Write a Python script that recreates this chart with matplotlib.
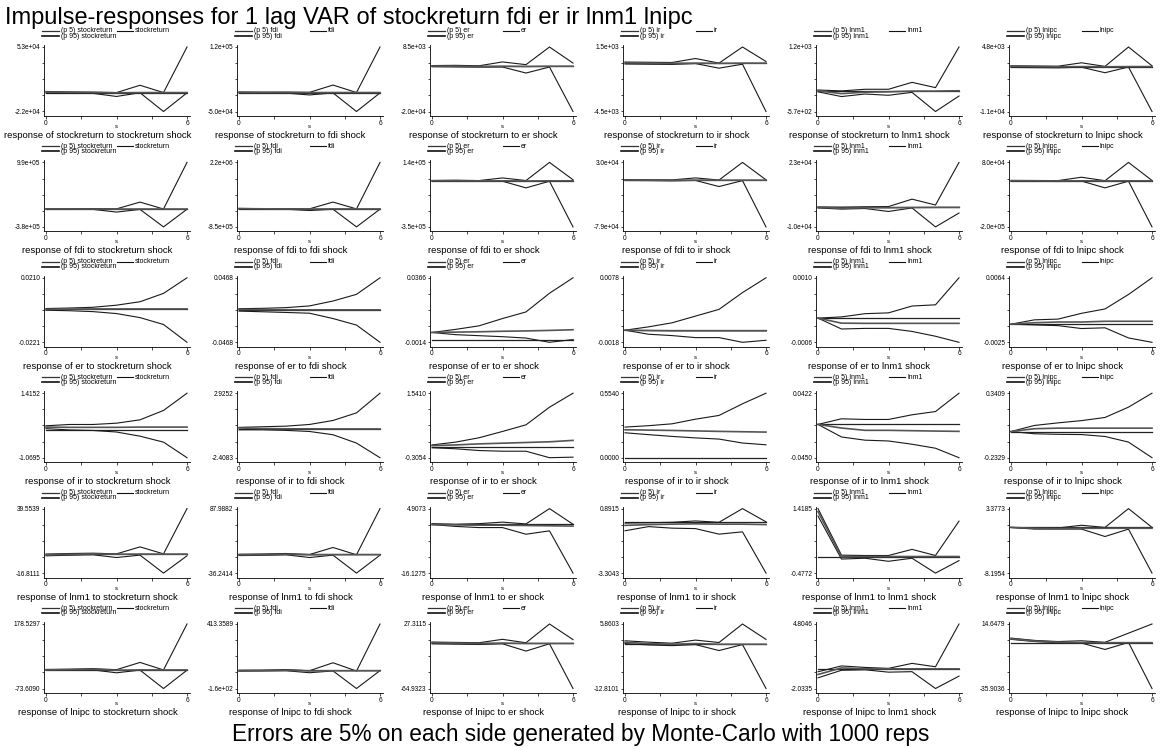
import numpy as np
import matplotlib
matplotlib.use("Agg")
import matplotlib.pyplot as plt
from matplotlib.lines import Line2D

plt.rcParams['font.family'] = ['Liberation Sans', 'DejaVu Sans']

variables = ['stockreturn', 'fdi', 'er', 'ir', 'lnm1', 'lnipc']
steps = [0, 1, 2, 3, 4, 5, 6]
nan = float('nan')

# ---- response of stockreturn (columns = impulse: stockreturn, fdi, er, ir, lnm1, lnipc)
p5_stockreturn = [
    [-300, -600, -900, -4500, -200, -22000, -300],
    [-800, -1000, -1500, -6400, -1000, -50000, -1000],
    [-200, -300, -400, -350, -3000, -350, -20000],
    [-80, -100, -120, -40, -470, -100, -4500],
    [-30, -160, -90, -125, -45, -570, -145],
    [-200, -250, -300, -150, -1500, -100, -11000],
]
p95_stockreturn = [
    [1300, 800, 500, 0, 8500, 0, 53000],
    [1500, 1000, 1200, 500, 19700, 0, 120000],
    [300, 400, 200, 1900, 700, 8500, 1400],
    [100, 80, 60, 430, 0, 1500, 150],
    [20, -5, 40, 40, 230, 85, 1200],
    [200, 150, 100, 930, 50, 4800, 190],
]
irf_stockreturn = [
    [700, 300, 100, -200, 0, 0, 0],
    [300, 100, 0, -300, 0, 0, 0],
    [100, 0, -100, 0, -100, 0, 0],
    [30, 0, -20, 0, -20, 0, 0],
    [0, -80, -40, -30, -10, -10, 0],
    [50, 0, -50, 0, -50, 0, 0],
]

# ---- response of fdi
p5_fdi = [
    [-5000, -6000, -8000, -65000, -8000, -380000, -5000],
    [-5000, -10000, -15000, -75000, -15000, -850000, -10000],
    [-3000, -4000, -4000, -3000, -53500, -3000, -350000],
    [-600, -800, -1200, -500, -10800, -800, -79000],
    [-300, -900, -600, -2100, -300, -10000, -2900],
    [-1500, -2000, -3000, -1000, -30600, -1500, -200000],
]
p95_fdi = [
    [8000, 5000, 8000, 3000, 147000, 0, 990000],
    [25000, 10000, 15000, 5000, 324000, 0, 2200000],
    [3000, 5000, 2000, 22000, 2000, 140000, 8000],
    [800, 600, 400, 3800, 200, 30000, 500],
    [200, 100, 300, 400, 4200, 1200, 23000],
    [2000, 1500, 1000, 15600, 500, 80000, 1500],
]
irf_fdi = [
    [2000, 1000, 0, -2000, 0, 0, 0],
    [15000, 5000, 0, -5000, 0, 0, 0],
    [0, 0, -1000, 0, -1000, 0, 0],
    [100, 0, -200, 0, -100, 0, 0],
    [0, -400, -200, -200, -100, 0, 0],
    [0, 0, -500, 0, -500, 0, 0],
]

# ---- response of er
p5_er = [
    [-0.0007, -0.0010, -0.0016, -0.0029, -0.0056, -0.0102, -0.0221],
    [-0.0015, -0.0025, -0.0035, -0.0046, -0.0123, -0.0218, -0.0468],
    [0.0044, 0.0031, 0.0025, 0.0019, 0.0011, -0.0014, 0.0002],
    [0.0, -0.0006, -0.0008, -0.0011, -0.0011, -0.0018, -0.0015],
    [0.0, -0.00027, -0.000255, -0.000255, -0.00033, -0.00045, -0.0006],
    [0.0, -0.0001, -0.0002, -0.0006, -0.0005, -0.0019, -0.0025],
]
p95_er = [
    [0.00045, 0.0008, 0.0013, 0.0027, 0.0050, 0.0106, 0.0210],
    [0.0020, 0.0025, 0.0035, 0.0060, 0.0131, 0.0228, 0.0468],
    [0.0044, 0.0062, 0.0083, 0.0126, 0.0165, 0.0275, 0.0366],
    [0.0, 0.0005, 0.0011, 0.0021, 0.0031, 0.0056, 0.0078],
    [0.0, 0.00003, 0.00011, 0.00013, 0.0003, 0.00033, 0.0010],
    [0.0, 0.0006, 0.0007, 0.0015, 0.0021, 0.0041, 0.0064],
]
irf_er = [
    [-0.0001, 0.0001, 0.0002, 0.0002, 0.0002, 0.0002, 0.0002],
    [0.0010, 0.0006, 0.0004, 0.0003, 0.0003, 0.0003, 0.0003],
    [0.0044, 0.0046, 0.0048, 0.0051, 0.0053, 0.0056, 0.0060],
    [0.0, -0.00005, -0.0001, -0.0001, -0.0001, -0.0001, -0.0001],
    [0.0, -0.000125, -0.00013, -0.00013, -0.00013, -0.00013, -0.00013],
    [0.0, 0.0002, 0.0003, 0.0003, 0.0004, 0.0004, 0.0004],
]

# ---- response of ir
p5_ir = [
    [0.05, 0.0, -0.02, -0.08, -0.24, -0.47, -1.0695],
    [-0.1, -0.1, -0.15, -0.24, -0.51, -1.20, -2.4083],
    [-0.02, -0.05, -0.10, -0.12, -0.12, -0.3054, -0.29],
    [0.214, 0.198, 0.183, 0.170, 0.160, 0.126, 0.111],
    [0.0, -0.0170, -0.0213, -0.0224, -0.0268, -0.0322, -0.0450],
    [0.0, -0.020, -0.025, -0.027, -0.044, -0.094, -0.2329],
]
p95_ir = [
    [0.16, 0.21, 0.21, 0.26, 0.39, 0.75, 1.4152],
    [0.1, 0.15, 0.2, 0.34, 0.67, 1.30, 2.9252],
    [0.06, 0.14, 0.265, 0.446, 0.636, 1.14, 1.5410],
    [0.263, 0.275, 0.291, 0.331, 0.363, 0.463, 0.5540],
    [0.0, 0.0076, 0.0067, 0.0067, 0.0130, 0.0174, 0.0422],
    [0.0, 0.054, 0.077, 0.097, 0.125, 0.217, 0.3409],
]
irf_ir = [
    [0.11, 0.10, 0.10, 0.10, 0.11, 0.11, 0.11],
    [0.05, 0.0, -0.02, -0.02, -0.03, -0.03, -0.03],
    [0.04, 0.06, 0.09, 0.11, 0.13, 0.15, 0.19],
    [0.240, 0.237, 0.234, 0.230, 0.226, 0.223, 0.220],
    [0.0, -0.0049, -0.0080, -0.0080, -0.0085, -0.0090, -0.0094],
    [0.0, 0.025, 0.030, 0.030, 0.030, 0.030, 0.030],
]

# ---- response of lnm1
p5_lnm1 = [
    [-1.7, -1.2, -0.8, -3.2, -1.1, -16.8111, -1.7],
    [-2.5, -2.0, -1.0, -6.2, -1.7, -36.2414, -1.7],
    [-0.3, -0.9, -1.28, -1.28, -3.45, -2.35, -16.1275],
    [-0.55, -0.28, -0.38, -0.41, -0.77, -0.62, -3.3043],
    [1.20, -0.065, -0.04, -0.13, -0.04, -0.4772, -0.11],
    [0.0, -0.3, -0.3, -0.3, -1.63, -0.3, -8.1954],
]
p95_lnm1 = [
    [-0.2, 0.3, 0.6, 0.0, 6.1, 0.0, 39.5539],
    [0.0, 0.5, 1.5, -0.5, 13.1, -1.0, 87.9882],
    [0.0, -0.2, 0.0, 0.5, -0.1, 4.9073, -0.2],
    [-0.05, -0.03, 0.0, 0.09, 0.0, 0.8915, 0.03],
    [1.4185, 0.05, 0.04, 0.04, 0.22, 0.04, 1.05],
    [0.0, -0.1, -0.1, 0.39, 0.0, 3.3773, 0.0],
]
irf_lnm1 = [
    [-0.9, -0.4, -0.1, -0.3, -0.2, -0.2, -0.2],
    [-1.2, -0.8, 0.0, -1.0, -0.8, -0.8, -0.8],
    [-0.3, -0.4, -0.5, -0.5, -0.6, -0.7, -0.8],
    [-0.2, -0.15, -0.12, -0.10, -0.12, -0.12, -0.15],
    [1.33, 0.0, 0.01, 0.01, 0.01, 0.01, 0.01],
    [0.0, -0.15, -0.2, -0.15, -0.15, -0.15, -0.15],
]

# ---- response of lnipc
p5_lnipc = [
    [-3.0, -2.0, -1.0, -12.2, -1.7, -73.6090, -2.0],
    [-6.0, -4.0, -2.0, -20.0, -4.0, -160.2, -1.0],
    [-1.0, -1.5, -2.0, -1.0, -11.4, -1.0, -64.9323],
    [0.2, -0.2, -0.4, -0.1, -1.83, -0.1, -12.8101],
    [-0.9, -0.1, -0.05, -0.3, -0.25, -2.0335, -0.72],
    [2.6, 0.9, 0.0, -0.3, -5.3, 0.2, -35.9036],
]
p95_lnipc = [
    [1.0, 2.0, 4.0, 0.0, 28.3, -1.0, 178.5297],
    [2.0, 3.0, 8.0, -2.0, 68.7, -5.0, 413.3589],
    [1.5, 1.0, 0.5, 5.4, 0.5, 27.3115, 5.0],
    [1.0, 0.6, 0.3, 1.2, 0.5, 5.8603, 1.4],
    [-0.26, 0.36, 0.2, 0.1, 0.63, 0.27, 4.8046],
    [3.6, 1.8, 0.9, 1.5, 0.3, nan, 14.6479],
]
irf_lnipc = [
    [-1.0, 0.0, 1.0, -2.0, -1.0, -1.0, -1.0],
    [-2.0, -1.0, 2.0, -4.0, -3.0, -3.0, -3.0],
    [0.5, 0.0, -0.5, 0.0, -0.5, -0.5, -0.5],
    [0.55, 0.2, 0.0, 0.2, 0.0, 0.0, 0.0],
    [-0.55, 0.15, 0.05, 0.05, 0.05, 0.05, 0.05],
    [3.1, 1.3, 0.4, 0.1, 0.0, 0.0, 0.0],
]

# y-axis end labels (top, bottom) per panel
ylab_top = [
    ['5.3e+04', '1.2e+05', '8.5e+03', '1.5e+03', '1.2e+03', '4.8e+03'],
    ['9.9e+05', '2.2e+06', '1.4e+05', '3.0e+04', '2.3e+04', '8.0e+04'],
    ['0.0210', '0.0468', '0.0366', '0.0078', '0.0010', '0.0064'],
    ['1.4152', '2.9252', '1.5410', '0.5540', '0.0422', '0.3409'],
    ['39.5539', '87.9882', '4.9073', '0.8915', '1.4185', '3.3773'],
    ['178.5297', '413.3589', '27.3115', '5.8603', '4.8046', '14.6479'],
]
ylab_bottom = [
    ['-2.2e+04', '-5.0e+04', '-2.0e+04', '-4.5e+03', '-5.7e+02', '-1.1e+04'],
    ['-3.8e+05', '-8.5e+05', '-3.5e+05', '-7.9e+04', '-1.0e+04', '-2.0e+05'],
    ['-0.0221', '-0.0468', '-0.0014', '-0.0018', '-0.0006', '-0.0025'],
    ['-1.0695', '-2.4083', '-0.3054', '0.0000', '-0.0450', '-0.2329'],
    ['-16.8111', '-36.2414', '-16.1275', '-3.3043', '-0.4772', '-8.1954'],
    ['-73.6090', '-1.6e+02', '-64.9323', '-12.8101', '-2.0335', '-35.9036'],
]

P5 = [p5_stockreturn, p5_fdi, p5_er, p5_ir, p5_lnm1, p5_lnipc]
P95 = [p95_stockreturn, p95_fdi, p95_er, p95_ir, p95_lnm1, p95_lnipc]
IRF = [irf_stockreturn, irf_fdi, irf_er, irf_ir, irf_lnm1, irf_lnipc]

W, H = 1161, 748
fig = plt.figure(figsize=(W / 100, H / 100), dpi=100)

def fx(px):
    return px / W

def fy(py):
    return 1 - py / H

C_LO = '#1a1a1a'
C_HI = '#1a1a1a'
C_IRF = '#555555'
C_ZERO = '#222222'

xs = np.array(steps, float)
for r in range(6):
    for c in range(6):
        x0 = 46 + 193 * c
        x1 = x0 + 141
        yt = 47 + 115.4 * r
        yb = yt + 64.5
        L, R, T, B = x0 - 2, x1 + 3, yt - 2, yb + 4.5
        ax = fig.add_axes([fx(L), fy(B), (R - L) / W, (B - T) / H])
        lo = np.array(P5[r][c], float)
        hi = np.array(P95[r][c], float)
        ir = np.array(IRF[r][c], float)
        allv = np.concatenate([lo, hi, ir, [0.0]])
        ymin, ymax = np.nanmin(allv), np.nanmax(allv)
        ppx = (ymax - ymin) / 64.5
        ax.set_ylim(ymin - 4.5 * ppx, ymax + 2 * ppx)
        xpp = 6 / 141
        ax.set_xlim(-2 * xpp, 6 + 3 * xpp)

        ax.plot([0, 6], [0, 0], color=C_ZERO, lw=0.9, clip_on=False)
        for ser, col, lw in [(lo, C_LO, 0.8), (hi, C_HI, 0.8), (ir, C_IRF, 1.2)]:
            m = ~np.isnan(ser)
            ax.plot(xs[m], ser[m], color=col, lw=lw, clip_on=False)

        for s in ['top', 'right']:
            ax.spines[s].set_visible(False)
        for s in ['left', 'bottom']:
            ax.spines[s].set_linewidth(0.6)
        ax.set_yticks(np.linspace(ymin, ymax, 5))
        ax.set_yticklabels([ylab_bottom[r][c], '', '', '', ylab_top[r][c]])
        ax.set_xticks([0, 1.5, 3, 4.5, 6])
        ax.set_xticklabels(['0', '', '', '', '6'])
        ax.tick_params(axis='both', length=1.8, width=0.5, labelsize=4.7, pad=0.8)

        imp = variables[c]
        resp = variables[r]
        fig.text(fx(x0 + 70.5), fy(yb + 15), 's', fontsize=4.3, ha='center', va='center')
        fig.text(fx(x0 + 70.5 - 19), fy(yb + 26.5), f'response of {resp} to {imp} shock',
                 ha='center', va='baseline', fontsize=6.8)

        # legend
        ly1, ly2 = yt - 16, yt - 11
        fig.add_artist(Line2D([fx(x0 - 4), fx(x0 + 13)], [fy(ly1)] * 2, color='#333333', lw=0.9))
        fig.text(fx(x0 + 15), fy(ly1), f'(p 5) {imp}', fontsize=5.0, va='center', ha='left')
        fig.add_artist(Line2D([fx(x0 - 4), fx(x0 + 13)], [fy(ly2)] * 2, color='#111111', lw=1.2))
        fig.text(fx(x0 + 15), fy(ly2), f'(p 95) {imp}', fontsize=5.0, va='center', ha='left')
        fig.add_artist(Line2D([fx(x0 + 71), fx(x0 + 87)], [fy(ly1)] * 2, color='#111111', lw=0.8))
        fig.text(fx(x0 + 89), fy(ly1), f'{imp}', fontsize=5.0, va='center', ha='left')

fig.text(fx(5), fy(24), 'Impulse-responses for 1 lag VAR of stockreturn fdi er ir lnm1 lnipc',
         fontsize=17, ha='left', va='baseline')
fig.text(0.5, fy(741), 'Errors are 5% on each side generated by Monte-Carlo with 1000 reps',
         fontsize=16.3, ha='center', va='baseline')

fig.savefig('out.png', dpi=100)
